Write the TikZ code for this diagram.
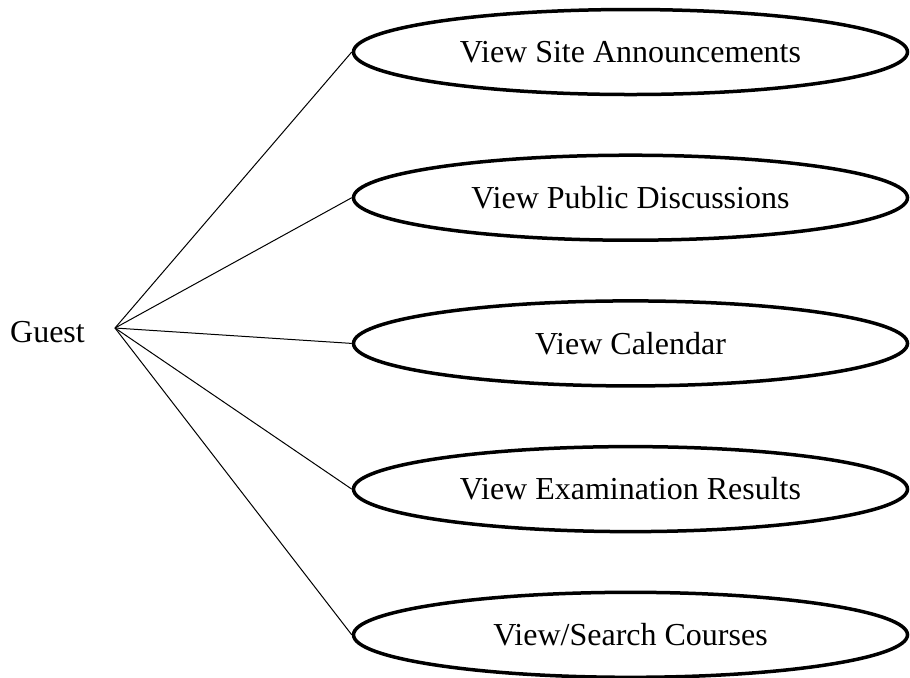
\documentclass[tikz,border=0pt]{standalone}
\usepackage{fontspec}
\setmainfont{Liberation Serif}
\usetikzlibrary{shapes}
\usetikzlibrary{positioning}
\tikzstyle{usecase} = [ellipse,fill=white,draw=black,line width=1.75pt,inner sep=0pt,
minimum width=277pt, minimum height=42.5pt, font=\fontsize{16}{16}\selectfont, node distance=28.6pt]
\tikzstyle{actor} = [rectangle, inner sep=0pt, font=\fontsize{16}{16}\selectfont]
\tikzstyle{link} = [line width=0.5pt]
\newcommand{\assoc}[2]{ %
  % Join the actor #1 to all use cases #2.
  \foreach \y in {#2} { %
    \draw[link] (#1) -- (\y.west) ;%
  } ;
}

\begin{document}
\begin{tikzpicture}[x=0.5pt, y=-0.5pt]
  \useasboundingbox (0,0) rectangle (910,677);
  \node[usecase] (ann) at (630.5,52) {View Site Announcements};
  \node[usecase, below=of ann] (disc) {View Public Discussions};
  \node[usecase, below=of disc] (cal) {View Calendar};
  \node[usecase, below=of cal] (exam) {View Examination Results};
  \node[usecase, below=of exam] (crs) {View/Search Courses};

  \node[actor] (guest) at (47.5,332) {Guest};
  \coordinate (hub) at (115,328);

  \assoc {hub} {ann,disc,cal,exam,crs};
\end{tikzpicture}
\end{document}
